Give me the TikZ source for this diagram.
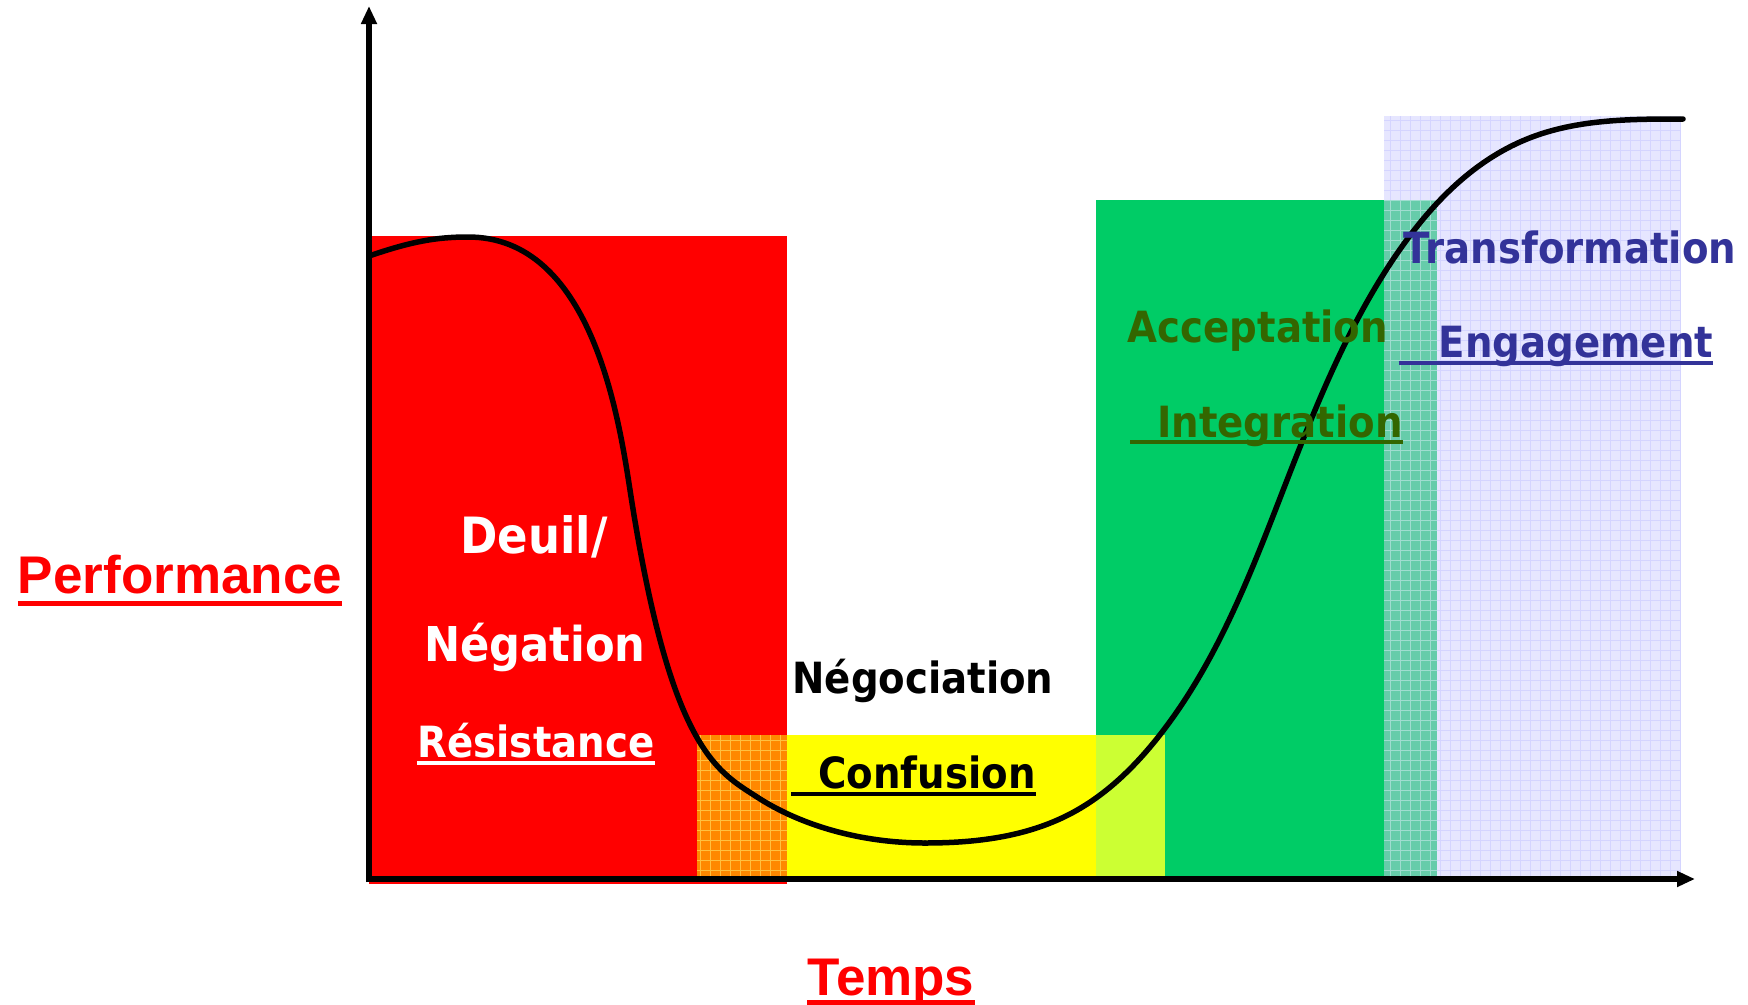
\documentclass[tikz,border=0pt]{standalone}
\usepackage{fontspec}
\setmainfont{DejaVu Sans Condensed}
\newfontfamily\arialfont{Liberation Sans}
\usetikzlibrary{arrows.meta,hobby}
\definecolor{cRed}{HTML}{FF0000}
\definecolor{cOrange}{HTML}{FF8800}
\definecolor{cOrangeGrid}{HTML}{FFC040}
\definecolor{cYellow}{HTML}{FFFF00}
\definecolor{cYG}{HTML}{CCFF33}
\definecolor{cGreen}{HTML}{00CC66}
\definecolor{cTeal}{HTML}{66CCAA}
\definecolor{cTealGrid}{HTML}{A0DCD0}
\definecolor{cLav}{HTML}{E6E6FF}
\definecolor{cLavGrid}{HTML}{D4D4FF}
\definecolor{cDkGreen}{HTML}{336600}
\definecolor{cDkBlue}{HTML}{333399}
\begin{document}
\begin{tikzpicture}[x=1pt,y=-1pt,
  lbl/.style={inner sep=0pt, anchor=base, font=\fontsize{43}{50}\selectfont\bfseries},
  biglbl/.style={inner sep=0pt, anchor=base, font=\fontsize{#1}{#1}\selectfont\bfseries},
  big/.style={inner sep=0pt, anchor=base, text=cRed, font=\arialfont\fontsize{53}{60}\selectfont\bfseries},
  axisline/.style={line width=6pt, -{Triangle[length=18pt,width=15pt]}},
  curveline/.style={line width=5.5pt, line cap=round},
  ulA/.style={line width=4.5pt},
  gridline/.style={line width=1pt, xstep=10pt, ystep=10pt}]
\useasboundingbox (0,0) rectangle (1748,1004);

% lavender (transformation) zone
\fill[cLav] (1384,116) rectangle (1680,879);
\draw[gridline, cLavGrid] (1384,116) grid (1680,879);
% green zone
\fill[cGreen] (1096,200) rectangle (1384,879);
% teal overlap
\fill[cTeal] (1384,200) rectangle (1437,879);
\draw[gridline, cTealGrid] (1384,200) grid (1437,879);
% red zone
\fill[cRed] (369,236) rectangle (787,884);
% yellow zone
\fill[cYellow] (787,735) rectangle (1096,879);
% orange overlap
\fill[cOrange] (697,735) rectangle (787,879);
\draw[gridline, cOrangeGrid] (697,735) grid (787,879);
% yellow-green overlap
\fill[cYG] (1096,735) rectangle (1165,879);

% curve: fall
\draw[curveline]
  (369,256) .. controls (410,242) and (435,237) .. (468,237)
  .. controls (590,237) and (618,412) .. (630,490)
  .. controls (670,750) and (717,771) .. (757,797)
  .. controls (800,825) and (860,843) .. (925,843);
% curve: rise
\draw[curveline, use Hobby shortcut]
  ([out angle=0]925,843) .. (1070,814) .. (1159,736) .. (1282,493)
  .. (1394,258) .. (1527,139) .. ([in angle=180]1683,119);

% axes
\coordinate (O) at (369,882);
\coordinate (ytip) at (369,6);
\coordinate (xo) at (366,879);
\coordinate (xtip) at (1695,879);
\draw[axisline] (O) -- (ytip);
\draw[axisline] (xo) -- (xtip);

% labels
\node[big] (perf) at (180,593) {Performance};
\draw[ulA, cRed, line width=5pt] ([yshift=-10pt]perf.base west) -- ([yshift=-10pt]perf.base east);
\node[big] (temps) at (891,995) {Temps};
\draw[ulA, cRed, line width=5pt] ([yshift=-7pt]temps.base west) -- ([yshift=-7pt]temps.base east);

\node[biglbl=50, text=white] (deuil) at (534,553) {Deuil/};
\node[biglbl=48, text=white] (neg) at (535,661) {Négation};
\node[lbl, text=white] (res) at (536,757) {Résistance};
\draw[ulA, white] ([yshift=-6pt]res.base west) -- ([yshift=-6pt]res.base east);

\node[lbl, text=black] (nego) at (923,693) {Négociation};
\node[lbl, text=black] (conf) at (927,788) {Confusion};
\draw[ulA, black] ([xshift=-27pt,yshift=-6pt]conf.base west) -- ([yshift=-6pt]conf.base east);

\node[lbl, text=cDkGreen] (acc) at (1258,342) {Acceptation};
\node[lbl, text=cDkGreen] (integ) at (1280,437) {Integration};
\draw[ulA, cDkGreen] ([xshift=-27pt,yshift=-5pt]integ.base west) -- ([yshift=-5pt]integ.base east);

\node[lbl, text=cDkBlue] (transf) at (1570,263) {Transformation};
\node[lbl, text=cDkBlue] (engag) at (1576,357) {Engagement};
\draw[ulA, cDkBlue] ([xshift=-40pt,yshift=-6pt]engag.base west) -- ([yshift=-6pt]engag.base east);
\end{tikzpicture}
\end{document}
